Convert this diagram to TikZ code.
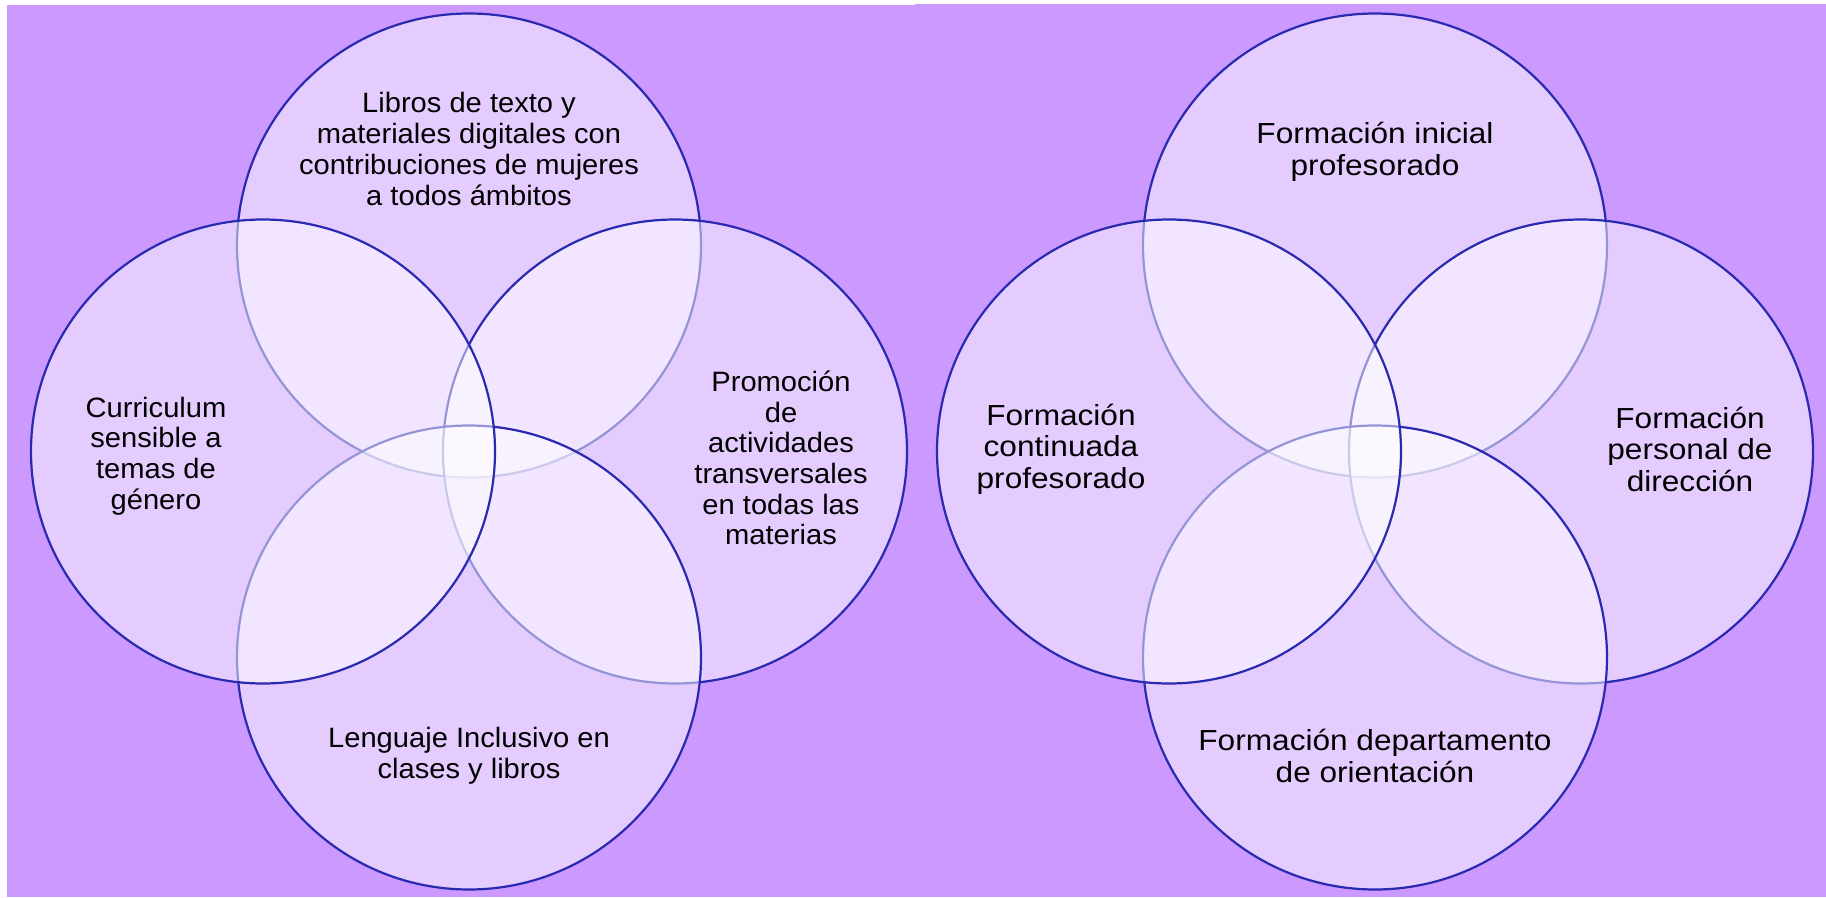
\documentclass[tikz,border=0pt]{standalone}
\usepackage{fontspec}
\setmainfont{Liberation Sans}
\newfontfamily\lfont[FakeStretch=1.04]{Liberation Sans}
\newfontfamily\rfont[FakeStretch=1.09]{Liberation Sans}
\definecolor{bgpurple}{RGB}{204,153,255}
\definecolor{rimblue}{RGB}{42,42,176}
\begin{document}
\begin{tikzpicture}[x=1pt,y=-1pt,
  venn/.style={circle, minimum size=464pt, inner sep=0pt, fill=white, fill opacity=0.5, draw=rimblue, draw opacity=1, line width=2.2pt},
  ltxt/.style={align=center, inner sep=0pt, font=\lfont\fontsize{28}{30.7}\selectfont, text=black},
  rtxt/.style={align=center, inner sep=0pt, font=\rfont\fontsize{29}{31.5}\selectfont, text=black}]
\useasboundingbox (0,0) rectangle (1826,897);
\fill[white] (0,0) rectangle (1826,897);
\fill[bgpurple] (7,5) rectangle (915,897);
\fill[bgpurple] (915,4) rectangle (1826,897);
% left diagram
\node[venn] (lt) at (469,245.5) {};
\node[venn] (lr) at (675,451.5) {};
\node[venn] (lb) at (469,657.5) {};
\node[venn] (ll) at (263,451.5) {};
% right diagram
\node[venn] (rt) at (1375,245.5) {};
\node[venn] (rr) at (1581,451.5) {};
\node[venn] (rb) at (1375,657.5) {};
\node[venn] (rl) at (1169,451.5) {};
% texts
\node[ltxt] (tlt) at (469,149) {Libros de texto y\\materiales digitales con\\contribuciones de mujeres\\a todos ámbitos};
\node[ltxt] (tll) at (156,456) {Curriculum\\sensible a\\temas de\\género};
\node[ltxt] (tlr) at (781,458) {Promoción\\de\\actividades\\transversales\\en todas las\\materias};
\node[ltxt] (tlb) at (469,756) {Lenguaje Inclusivo en\\clases y libros};
\node[rtxt] (trt) at (1375,152) {Formación inicial\\profesorado};
\node[rtxt] (trl) at (1061,449) {Formación\\continuada\\profesorado};
\node[rtxt] (trr) at (1690,449) {Formación\\personal de\\dirección};
\node[rtxt] (trb) at (1375,756) {Formación departamento\\de orientación};
\end{tikzpicture}
\end{document}
